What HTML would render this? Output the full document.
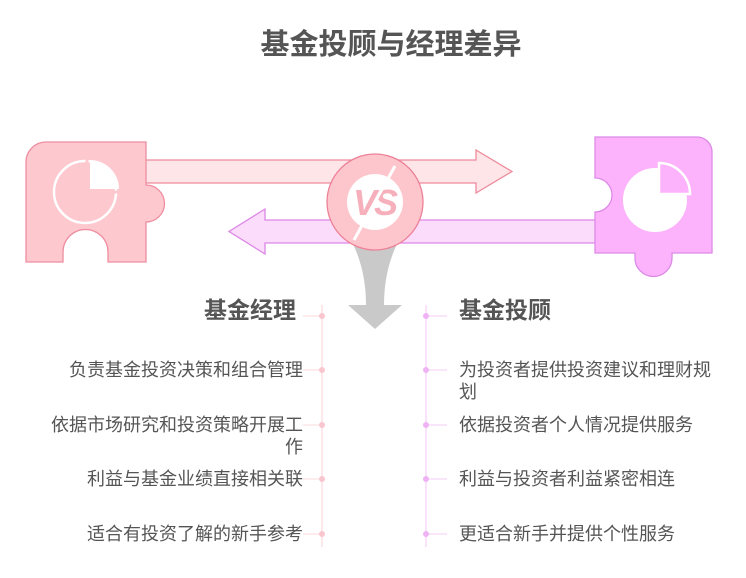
<!DOCTYPE html>
<html><head><meta charset="utf-8"><style>
html,body{margin:0;padding:0;background:#fff;}
svg{display:block;}
text{font-family:"Liberation Sans","Noto Sans CJK SC",sans-serif;}
</style></head><body>
<svg width="746" height="578" viewBox="0 0 746 578" xmlns="http://www.w3.org/2000/svg">
<text x="391" y="54" text-anchor="middle" font-size="29" font-weight="bold" fill="#555">基金投顾与经理差异</text>

<path d="M140 160 H476 V150 L512 171.5 L476 193 V183 H140 Z" fill="#fde5e8" stroke="#ef8a9c" stroke-width="1.3"/>
<path d="M600 220 H265 V209 L229 231.5 L265 254 V243 H600 Z" fill="#fbdcfb" stroke="#dc86e6" stroke-width="1.3"/>

<path d="M46 142 H146 V185 A18.5 18.5 0 0 1 146 222 V262 H108 V252 A22.5 22.5 0 0 0 63 252 V262 H26 V162 A20 20 0 0 1 46 142 Z" fill="#fec8cf" stroke="#ee8da0" stroke-width="1.3"/>
<circle cx="85" cy="192" r="31" fill="none" stroke="#fff" stroke-width="2.5"/>
<path d="M87 157 V192 H119" fill="none" stroke="#fec8cf" stroke-width="3"/>
<path d="M90 160 A29 29 0 0 1 119 189 H90 Z" fill="#fff"/>

<path d="M595 137 H697 A15 15 0 0 1 712 152 V253 H672 V258 A18.5 18.5 0 0 1 635 258 V253 H595 V212 A17 17 0 0 0 595 178 Z" fill="#fdb3fc" stroke="#dc8ae6" stroke-width="1.3"/>
<circle cx="655" cy="200" r="32" fill="#fff"/>
<path d="M659 163 A31 31 0 0 1 690 194 H659 Z" fill="#fdb3fc" stroke="#fff" stroke-width="2.5"/>

<path d="M352 242 H398 Q384 270 384 305 H402 L375 329 L348 305 H366 Q366 270 352 242 Z" fill="#c9c9c9"/>

<circle cx="375" cy="202" r="48" fill="#fdc6cc" stroke="#ec8097" stroke-width="1.3"/>
<circle cx="375" cy="202" r="28" fill="#fff"/>
<text x="374" y="215" text-anchor="middle" font-size="36" font-weight="bold" font-style="italic" fill="#f6b0bc" letter-spacing="-3">VS</text>
<line x1="395" y1="166" x2="354" y2="240" stroke="#fff" stroke-width="3"/>

<line x1="322" y1="305" x2="322" y2="547" stroke="#fbe0e4" stroke-width="1.5"/>
<line x1="426" y1="305" x2="426" y2="547" stroke="#f7d8f8" stroke-width="1.5"/>
<g stroke="#fbe0e4" stroke-width="1.2">
<line x1="303" y1="316" x2="322" y2="316"/><line x1="303" y1="370" x2="322" y2="370"/><line x1="303" y1="425" x2="322" y2="425"/><line x1="303" y1="479" x2="322" y2="479"/><line x1="303" y1="534" x2="322" y2="534"/>
</g>
<g stroke="#f5d6f7" stroke-width="1.2">
<line x1="426" y1="316" x2="447" y2="316"/><line x1="426" y1="370" x2="447" y2="370"/><line x1="426" y1="425" x2="447" y2="425"/><line x1="426" y1="479" x2="447" y2="479"/><line x1="426" y1="534" x2="447" y2="534"/>
</g>
<g fill="#f9c6cf"><circle cx="322" cy="316" r="3"/><circle cx="322" cy="370" r="3"/><circle cx="322" cy="425" r="3"/><circle cx="322" cy="479" r="3"/><circle cx="322" cy="534" r="3"/></g>
<g fill="#efb3f3"><circle cx="426" cy="316" r="3"/><circle cx="426" cy="370" r="3"/><circle cx="426" cy="425" r="3"/><circle cx="426" cy="479" r="3"/><circle cx="426" cy="534" r="3"/></g>

<text x="296" y="318" text-anchor="end" font-size="23" font-weight="bold" fill="#555">基金经理</text>
<text x="459" y="318" font-size="23" font-weight="bold" fill="#555">基金投顾</text>

<g font-size="18" fill="#555">
<text x="303" y="376" text-anchor="end">负责基金投资决策和组合管理</text>
<text x="303" y="431" text-anchor="end">依据市场研究和投资策略开展工</text>
<text x="303" y="453" text-anchor="end">作</text>
<text x="303" y="485" text-anchor="end">利益与基金业绩直接相关联</text>
<text x="303" y="540" text-anchor="end">适合有投资了解的新手参考</text>
<text x="459" y="376">为投资者提供投资建议和理财规</text>
<text x="459" y="398">划</text>
<text x="459" y="431">依据投资者个人情况提供服务</text>
<text x="459" y="485">利益与投资者利益紧密相连</text>
<text x="459" y="540">更适合新手并提供个性服务</text>
</g>
</svg>
</body></html>
